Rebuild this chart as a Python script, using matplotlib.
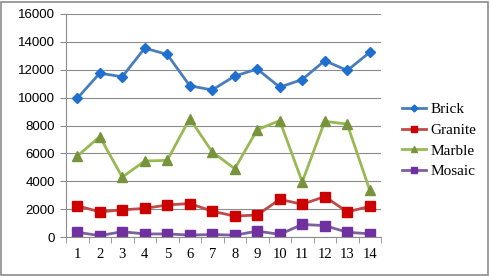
import matplotlib
matplotlib.use("Agg")
import matplotlib.pyplot as plt
from matplotlib.patches import Rectangle

days = list(range(1, 15))
brick = [9950, 11750, 11500, 13550, 13100, 10850, 10550, 11550, 12050, 10750, 11300, 12650, 11950, 13250]
granite = [2250, 1800, 1950, 2050, 2300, 2400, 1850, 1500, 1580, 2700, 2350, 2900, 1800, 2200]
marble = [5800, 7200, 4300, 5450, 5500, 8500, 6100, 4900, 7700, 8350, 3950, 8300, 8100, 3350]
mosaic = [340, 100, 380, 220, 220, 140, 180, 130, 420, 190, 900, 820, 340, 230]

series = [
    ("Brick", brick, "#4A7EBB", "#1F6FCF", "D", 5),
    ("Granite", granite, "#BE4B48", "#CC0000", "s", 7),
    ("Marble", marble, "#98B954", "#77933C", "^", 7),
    ("Mosaic", mosaic, "#7D60A0", "#7030A0", "s", 7),
]

plt.rcParams["font.family"] = ["Liberation Serif", "DejaVu Serif"]

fig = plt.figure(figsize=(4.9, 2.76), dpi=100)
ax = fig.add_axes([66 / 490, 1 - 237 / 276, (381 - 66) / 490, (237 - 14) / 276])

for name, vals, lc, mc, mk, ms in series:
    ax.plot(days, vals, color=lc, linewidth=2, marker=mk, markersize=ms,
            markerfacecolor=mc, markeredgecolor=mc, label=name)

ax.set_xlim(0.5, 14.5)
ax.set_ylim(0, 16000)
ax.set_yticks(range(0, 16001, 2000))
ax.set_xticks(days)
ax.set_xticks([d + 0.5 for d in range(0, 15)], minor=True)
ax.grid(axis="y", color="#8C8C8C", linewidth=0.8)
ax.set_axisbelow(True)
for s in ["top", "right"]:
    ax.spines[s].set_visible(False)
for s in ["left", "bottom"]:
    ax.spines[s].set_color("#8C8C8C")
ax.tick_params(axis="x", which="major", length=0, pad=8)
ax.tick_params(axis="x", which="minor", length=4, color="#8C8C8C")
ax.tick_params(axis="y", length=4, color="#8C8C8C", pad=4)
for t in ax.get_xticklabels():
    t.set_fontsize(10.5)
for t in ax.get_yticklabels():
    t.set_fontfamily("Liberation Sans")
    t.set_fontsize(9.5)

leg = fig.legend(loc="upper left", bbox_to_anchor=(388 / 490, 1 - 89 / 276),
                 frameon=False, prop={"family": "Liberation Serif", "size": 11},
                 handlelength=1.6, handletextpad=0.3, labelspacing=0.45,
                 markerscale=0.7)

fig.patches.append(Rectangle((0.002, 0.004), 0.994, 0.99, transform=fig.transFigure,
                             fill=False, edgecolor="#8C8C8C", linewidth=1.2))

fig.savefig("out.png", dpi=100)
